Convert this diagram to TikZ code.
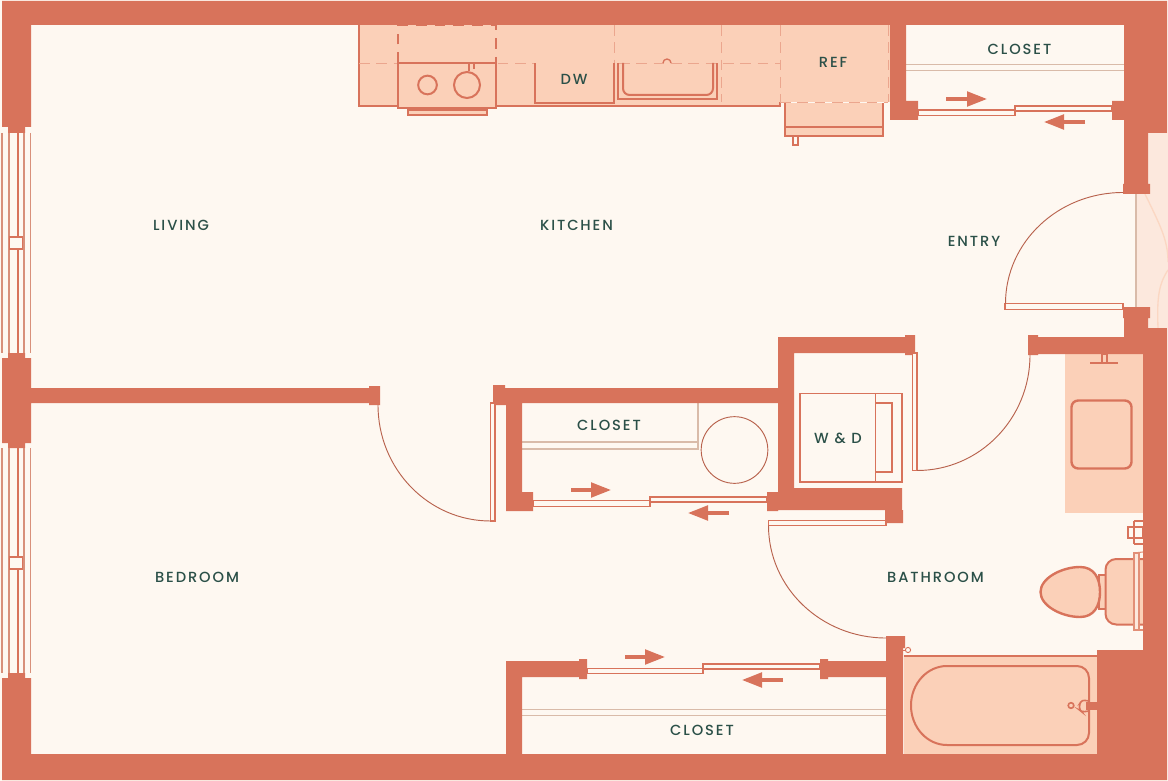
\documentclass[tikz,border=0pt]{standalone}
\usepackage{fontspec}
\setmainfont[LetterSpace=13]{Poppins Medium}
\usepackage{xcolor}
\usetikzlibrary{arrows.meta, positioning}
\definecolor{wallc}{HTML}{D8735B}
\definecolor{paper}{HTML}{FEF8F1}
\definecolor{peach}{HTML}{FBD0B8}
\definecolor{blush}{HTML}{FCE8DD}
\definecolor{railc}{HTML}{D9BBA9}
\definecolor{inkc}{HTML}{2B5048}
\tikzset{
    wall/.style={fill=wallc, draw=none},
    fixture/.style={draw=wallc, fill=peach, line width=1.5pt},
    cover/.style={draw=wallc, fill=paper, line width=1.5pt},
    panel/.style={draw=wallc, fill=paper, line width=1pt},
    swing/.style={draw=wallc!85!black, line width=0.7pt},
    rail/.style={draw=railc, line width=0.8pt},
    cutline/.style={draw=wallc!45!peach, line width=0.7pt, dash pattern=on 8pt off 5pt},
    slidemark/.style={draw=wallc, line width=2.4pt, -{Triangle[length=15pt, width=11pt]}},
    roomlabel/.style={text=inkc, font=\fontsize{11}{13}\selectfont, inner sep=0pt}
}
\begin{document}
\begin{tikzpicture}[x=0.75pt, y=-0.75pt]
    \useasboundingbox (0,0) rectangle (1168,781);
    \fill[paper] (0,0) rectangle (1168,781);

    % Light strip outside the entry
    \fill[blush] (1136,133) rectangle (1168,328);
    \draw[peach!70!blush, line width=1pt] (1145,194) .. controls (1160,225) and (1168,240) .. (1168,262);
    \draw[peach!70!blush, line width=1pt] (1168,270) .. controls (1158,285) and (1157,300) .. (1158,328);
    \draw[railc, line width=1pt] (1136,194) -- (1136,307);

    % Kitchen counter
    \fill[peach] (359,25) rectangle (890,102);
    \fill[peach] (359,102) rectangle (780,106);
    \draw[wallc, line width=1pt] (359,25) -- (359,106) -- (780,106) -- (780,102);
    \draw[cutline] (359,63) -- (780,63);
    \draw[cutline] (780,102) -- (888,102);
    \foreach \xcut in {614,721,780,888}
        \draw[cutline] (\xcut,25) -- (\xcut,102);

    % Range
    \draw[fixture] (398,63) rectangle (496,108);
    \draw[wallc, line width=1.5pt, dash pattern=on 8pt off 6pt] (398,63) -- (398,25) -- (496,25) -- (496,63);
    \node[circle, fixture, inner sep=0pt, minimum size=14pt] (burnersmall) at (427.5,85) {};
    \node[circle, fixture, inner sep=0pt, minimum size=19.5pt] (burnerbig) at (467,85) {};
    \draw[wallc, line width=1pt] (469,71) -- (469,63) -- (474,63) -- (474,69);
    \draw[fixture, line width=1.2pt] (408,110) rectangle (487,115);

    % Dishwasher and sink
    \draw[fixture] (614,63) -- (614,103) -- (535,103) -- (535,63);
    \node[roomlabel] (dw) at (574,79) {DW};
    \draw[wallc, line width=1.5pt] (618,63) -- (618,99) -- (717,99) -- (717,63);
    \draw[wallc, line width=1.5pt, rounded corners=5pt] (623,63) -- (623,95) -- (713,95) -- (713,63);
    \draw[wallc, line width=1pt] (663,63) arc[start angle=180, end angle=360, radius=4];

    % Refrigerator
    \node[roomlabel] (ref) at (833,62) {REF};
    \draw[fixture] (785,103) -- (785,136) -- (883,136) -- (883,103);
    \draw[wallc, line width=1.5pt] (785,127) -- (883,127);
    \draw[panel] (793,136) rectangle (798,145);

    % Closet rails
    \draw[rail] (906,64.5) -- (1124,64.5);
    \draw[rail] (906,70.5) -- (1124,70.5);
    \draw[rail] (522,442) -- (698,442);
    \draw[rail] (522,449) -- (698,449) -- (698,403);
    \draw[rail] (522,709.5) -- (886,709.5);
    \draw[rail] (522,715.5) -- (886,715.5);
    \node[circle, swing, fill=paper, inner sep=0pt, minimum size=50pt] (heater) at (734.5,450) {};

    % Vanity
    \fill[peach] (1065,354) rectangle (1143,513);
    \draw[wallc, line width=1.8pt, rounded corners=5pt, fill=peach] (1071.5,400.5) rectangle (1131.5,468.5);
    \draw[wallc, line width=1pt, fill=peach] (1102,354) rectangle (1107,363);
    \draw[wallc, line width=2pt] (1090,363) -- (1118,363);

    % Toilet
    \draw[panel, line width=0.8pt] (1128,527) rectangle (1143,538);
    \draw[wallc, line width=1pt] (1134,521) -- (1134,544);
    \draw[wallc, line width=1pt] (1134,521) -- (1143,521);
    \draw[wallc, line width=1pt] (1134,544) -- (1143,544);
    \draw[fixture] (1099,575) rectangle (1106,609);
    \draw[fixture, rounded corners=8pt] (1143,559) -- (1105.5,559) -- (1105.5,624.5) -- (1143,624.5);
    \draw[fixture, line width=1.8pt] (1040.5,592) .. controls (1040.5,578) and (1062,567) .. (1080,567) .. controls (1094,567) and (1100,578) .. (1100,592) .. controls (1100,606) and (1094,617) .. (1080,617) .. controls (1062,617) and (1040.5,606) .. (1040.5,592);
    \draw[draw=wallc!70!peach, fill=blush, line width=0.8pt] (1134,553) rectangle (1139,630);
    \draw[draw=wallc!70!peach, line width=0.8pt] (1134,553) -- (1143,552);
    \draw[draw=wallc!70!peach, line width=0.8pt] (1134,630) -- (1143,630);

    % Bathtub
    \fill[peach] (904,656) rectangle (1097,754);
    \draw[wallc, line width=1.6pt] (904,656) -- (1097,656);
    \draw[wallc, line width=1.5pt] (1089,678) -- (1089,733) arc[start angle=0, end angle=90, radius=12] -- (947,745) arc[start angle=90, end angle=270, x radius=36, y radius=39.5] -- (1077,666) arc[start angle=270, end angle=360, radius=12];
    \draw[wallc, line width=1.2pt, rounded corners=2pt] (1089,701) -- (1082,700) -- (1079.5,704) -- (1079.5,710) -- (1082,712) -- (1089,711);
    \fill[wallc] (1086,702) rectangle (1097,710);
    \draw[wallc, line width=1.2pt] (1071,705.5) circle[radius=2.8];
    \draw[wallc, line width=0.7pt] (908,650) circle[radius=2.6];
    \draw[wallc, line width=0.7pt] (903,650) -- (905.4,650);

    % Walls
    \path[wall] (2,1) -- (1167,1) -- (1167,133) -- (1148,133) -- (1148,184) -- (1150,184) -- (1150,194) -- (1123,194) -- (1123,184) -- (1124,184) -- (1124,120) -- (1112,120) -- (1112,101) -- (1124,101) -- (1124,25) -- (906,25) -- (906,101) -- (918,101) -- (918,120) -- (890,120) -- (890,25) -- (31,25) -- (31,127) -- (25,127) -- (25,133) -- (8,133) -- (8,127) -- (2,127) -- cycle;
    \path[wall] (2,780) -- (1167,780) -- (1167,328) -- (1148,328) -- (1148,318) -- (1150,318) -- (1150,307) -- (1123,307) -- (1123,318) -- (1124,318) -- (1124,337) -- (1038,337) -- (1038,335) -- (1028,335) -- (1028,355) -- (1038,355) -- (1038,354) -- (1143,354) -- (1143,650) -- (1097,650) -- (1097,754) -- (903,754) -- (903,648) -- (905,648) -- (905,636) -- (886,636) -- (886,661) -- (828,661) -- (828,659) -- (820,659) -- (820,679) -- (828,679) -- (828,677) -- (886,677) -- (886,754) -- (522,754) -- (522,677) -- (579,677) -- (579,679) -- (587,679) -- (587,659) -- (579,659) -- (579,661) -- (506,661) -- (506,754) -- (31,754) -- (31,678) -- (25,678) -- (25,673) -- (8,673) -- (8,678) -- (2,678) -- cycle;
    % Wall between bedroom and living
    \path[wall] (8,353) -- (25,353) -- (25,358) -- (31,358) -- (31,388) -- (369,388) -- (369,386) -- (380,386) -- (380,405) -- (369,405) -- (369,403) -- (31,403) -- (31,443) -- (25,443) -- (25,448) -- (8,448) -- (8,443) -- (2,443) -- (2,358) -- (8,358) -- cycle;
    % Closet and laundry walls
    \path[wall] (493,385) -- (505,385) -- (505,388) -- (778,388) -- (778,337) -- (905,337) -- (905,335) -- (915,335) -- (915,355) -- (905,355) -- (905,353) -- (794,353) -- (794,488) -- (902,488) -- (902,510) -- (903,510) -- (903,523) -- (885,523) -- (885,510) -- (778,510) -- (778,511) -- (767,511) -- (767,492) -- (778,492) -- (778,403) -- (522,403) -- (522,492) -- (533,492) -- (533,511) -- (506,511) -- (506,405) -- (493,405) -- cycle;

    % Windows
    \foreach \ytop/\ybot in {133/353,448/673} {
        \draw[railc!40!wallc, line width=0.9pt] (2,\ytop) -- (2,\ybot);
        \draw[railc!40!wallc, line width=0.9pt] (9,\ytop) -- (9,\ybot);
        \draw[railc!40!wallc, line width=0.9pt] (24,\ytop) -- (24,\ybot);
        \draw[railc!40!wallc, line width=0.9pt] (30.5,\ytop) -- (30.5,\ybot);
        \fill[wallc] (16.8,\ytop) rectangle (19.2,\ybot);
    }
    \node[rectangle, panel, minimum width=10pt, minimum height=9pt, inner sep=0pt] (mullionup) at (16,243) {};
    \node[rectangle, panel, minimum width=10pt, minimum height=9pt, inner sep=0pt] (mulliondown) at (16,563) {};

    % Washer and dryer
    \draw[cover, line width=1.4pt] (800,393.5) rectangle (902,482);
    \draw[wallc, line width=1.4pt] (875.5,393.5) -- (875.5,482);
    \draw[wallc, line width=1.4pt] (875.5,403) -- (892,403) -- (892,472) -- (875.5,472);

    % Sliding doors
    \draw[panel] (533,500.5) -- (650,500.5) -- (650,497) -- (767,497) -- (767,502) -- (650,502) -- (650,506.5) -- (533,506.5) -- cycle;
    \draw[panel] (918,110) -- (1015,110) -- (1015,106) -- (1112,106) -- (1112,111) -- (1015,111) -- (1015,115.5) -- (918,115.5) -- cycle;
    \draw[panel] (587,668.5) -- (703,668.5) -- (703,664) -- (820,664) -- (820,669) -- (703,669) -- (703,673.5) -- (587,673.5) -- cycle;

    % Slide arrows
    \draw[slidemark] (946,99) -- (987,99);
    \draw[slidemark] (1085,122) -- (1044,122);
    \draw[slidemark] (571,490) -- (611,490);
    \draw[slidemark] (729,513) -- (688,513);
    \draw[slidemark] (625,657) -- (665,657);
    \draw[slidemark] (783,680) -- (742,680);

    % Swing doors
    \draw[panel] (1005,303.5) rectangle (1123,309.5);
    \draw[swing] (1005.5,303.5) arc[start angle=180, end angle=270, x radius=117.5, y radius=111];
    \draw[panel] (490.5,403) rectangle (495,521);
    \draw[swing] (490.5,521) arc[start angle=90, end angle=180, x radius=112.5, y radius=116];
    \draw[panel] (912.5,353) rectangle (917,470.5);
    \draw[swing] (917,470.5) arc[start angle=90, end angle=0, x radius=113, y radius=115.5];
    \draw[panel] (768.5,520.5) rectangle (886,525.5);
    \draw[swing] (768.5,525.5) arc[start angle=180, end angle=90, x radius=117.5, y radius=112.5];

    % Room labels
    \node[roomlabel] (living) at (181,225) {LIVING};
    \node[roomlabel] (kitchen) at (576.5,225) {KITCHEN};
    \node[roomlabel] (entry) at (974,241) {ENTRY};
    \node[roomlabel] (closettop) at (1019.5,49) {CLOSET};
    \node[roomlabel] (closetmid) at (609,425) {CLOSET};
    \node[roomlabel] (closetbottom) at (702,730) {CLOSET};
    \node[roomlabel] (laundry) at (838,438) {W \& D};
    \node[roomlabel] (bathroom) at (935.5,577) {BATHROOM};
    \node[roomlabel] (bedroom) at (197,577) {BEDROOM};
\end{tikzpicture}
\end{document}
